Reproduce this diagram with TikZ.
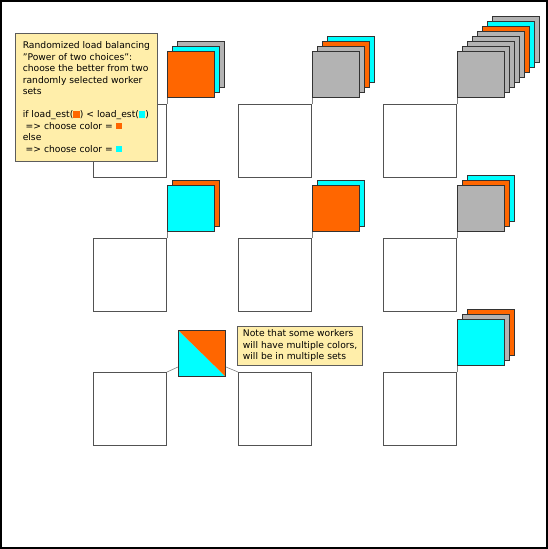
\documentclass[tikz,border=0pt]{standalone}
\usepackage{fontspec}
\setmainfont{DejaVu Sans}
\usetikzlibrary{positioning, calc}
\definecolor{colorOrange}{HTML}{FF6600}
\definecolor{colorCyan}{HTML}{00FFFF}
\definecolor{colorGray}{HTML}{B3B3B3}
\definecolor{colorNota}{HTML}{FFEEAA}
\definecolor{colorBorde}{HTML}{333333}
\newcommand{\sqOrange}{{\color{colorOrange}\rule{6.5pt}{6.5pt}}}
\newcommand{\sqCyan}{{\color{colorCyan}\rule{6.5pt}{6.5pt}}}

\begin{document}
\begin{tikzpicture}[x=1pt, y=-1pt,
        set/.style={draw=colorBorde!85, line width=1.2pt, fill=white, minimum size=72.8pt,
            inner sep=0pt, anchor=north west},
        wk/.style={draw=colorBorde, line width=0.8pt, minimum width=47.2pt, minimum height=46.2pt,
            inner sep=0pt, anchor=south west},
        lnk/.style={draw=gray, line width=0.6pt},
        nota/.style={draw=colorBorde!80, fill=colorNota, line width=0.8pt, align=left,
            font=\fontsize{9.2}{11.5}\selectfont, anchor=north west}
    ]
        \useasboundingbox (0,0) rectangle (548,549);
        \draw[line width=1.5pt] (1,1) rectangle (547,548);
        % worker sets
        \node[set] (b11) at (93,104) {}; \node[set] (b12) at (238,104) {}; \node[set] (b13) at (383,104) {};
        \node[set] (b21) at (93,238) {}; \node[set] (b22) at (238,238) {}; \node[set] (b23) at (383,238) {};
        \node[set] (b31) at (93,372) {}; \node[set] (b32) at (238,372) {}; \node[set] (b33) at (383,372) {};
        % row 1
        \node[wk, fill=colorGray] at ($(b11.north east)+(10,-16)$) {};
        \node[wk, fill=colorCyan] at ($(b11.north east)+(5,-11)$) {};
        \node[wk, fill=colorOrange, above right=6pt and 0pt of b11] (w11) {};
        \node[wk, fill=colorCyan] at ($(b12.north east)+(15,-21)$) {};
        \node[wk, fill=colorOrange] at ($(b12.north east)+(10,-16)$) {};
        \node[wk, fill=colorGray] at ($(b12.north east)+(5,-11)$) {};
        \node[wk, fill=colorGray, above right=6pt and 0pt of b12] (w12) {};
        \node[wk, fill=colorGray] at ($(b13.north east)+(35,-41)$) {};
        \node[wk, fill=colorCyan] at ($(b13.north east)+(30,-36)$) {};
        \node[wk, fill=colorOrange] at ($(b13.north east)+(25,-31)$) {};
        \node[wk, fill=colorGray] at ($(b13.north east)+(20,-26)$) {};
        \node[wk, fill=colorGray] at ($(b13.north east)+(15,-21)$) {};
        \node[wk, fill=colorGray] at ($(b13.north east)+(10,-16)$) {};
        \node[wk, fill=colorGray] at ($(b13.north east)+(5,-11)$) {};
        \node[wk, fill=colorGray, above right=6pt and 0pt of b13] (w13) {};
        % row 2
        \node[wk, fill=colorOrange] at ($(b21.north east)+(5,-11)$) {};
        \node[wk, fill=colorCyan, above right=6pt and 0pt of b21] (w21) {};
        \node[wk, fill=colorCyan] at ($(b22.north east)+(5,-11)$) {};
        \node[wk, fill=colorOrange, above right=6pt and 0pt of b22] (w22) {};
        \node[wk, fill=colorCyan] at ($(b23.north east)+(10,-16)$) {};
        \node[wk, fill=colorOrange] at ($(b23.north east)+(5,-11)$) {};
        \node[wk, fill=colorGray, above right=6pt and 0pt of b23] (w23) {};
        % row 3
        \node[wk, path picture={
                \fill[colorCyan] (path picture bounding box.north west) -- (path picture bounding box.south west)
                    -- (path picture bounding box.south east) -- cycle;
                \fill[colorOrange] (path picture bounding box.north west) -- (path picture bounding box.north east)
                    -- (path picture bounding box.south east) -- cycle;}] (sp) at (178,377) {};
        \node[wk, fill=colorOrange] at ($(b33.north east)+(10,-16)$) {};
        \node[wk, fill=colorGray] at ($(b33.north east)+(5,-11)$) {};
        \node[wk, fill=colorCyan, above right=6pt and 0pt of b33] (w33) {};
        \coordinate (spL) at ($(sp.south west)+(0,-10)$);
        \coordinate (spR) at ($(sp.south east)+(0,-10)$);
        \draw[lnk] (b11.north east) -- (w11.south west); \draw[lnk] (b12.north east) -- (w12.south west);
        \draw[lnk] (b13.north east) -- (w13.south west); \draw[lnk] (b21.north east) -- (w21.south west);
        \draw[lnk] (b22.north east) -- (w22.south west); \draw[lnk] (b23.north east) -- (w23.south west);
        \draw[lnk] (b33.north east) -- (w33.south west);
        \draw[lnk] (b31.north east) -- (spL); \draw[lnk] (spR) -- (b32.north west);
        % notes
        \node[nota, minimum width=142pt, inner xsep=7pt, inner ysep=8.5pt] (n1) at (15,33) {Randomized load balancing\\
            \char34 Power of two choices\char34:\\choose the better from two\\randomly selected worker\\sets\\~\\
            if load\_est(\sqOrange) < load\_est(\sqCyan)\\\ => choose color = \sqOrange\\else\\
            \ => choose color = \sqCyan};
        \node[nota, inner xsep=5.5pt, inner ysep=3.5pt] (n2) at (237,326) {Note that some workers\\
            will have multiple colors,\\will be in multiple sets};
    \end{tikzpicture}
\end{document}
